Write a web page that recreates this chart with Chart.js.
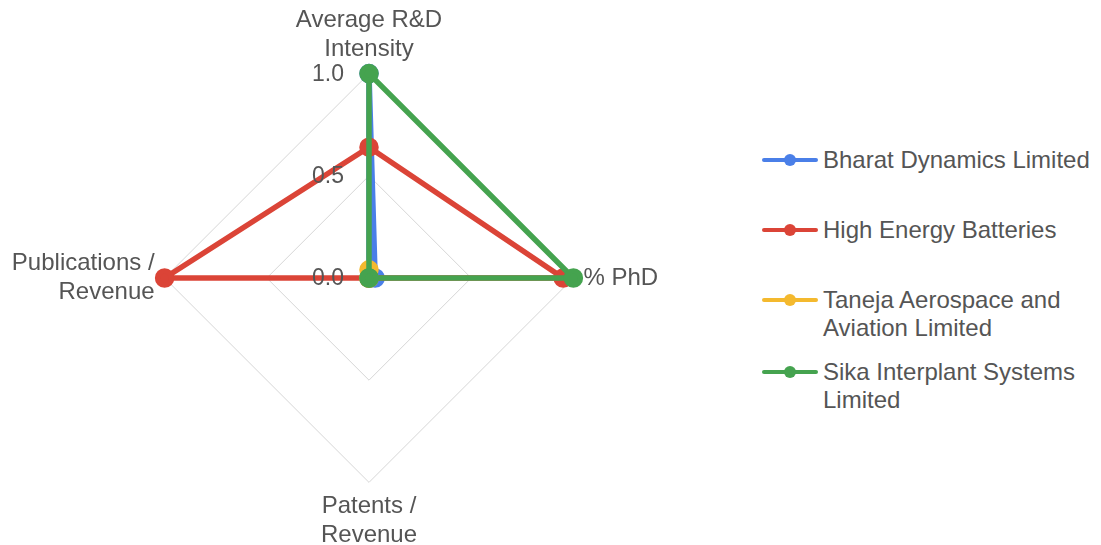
<!DOCTYPE html>
<html>
<head>
<meta charset="utf-8">
<script src="https://cdn.jsdelivr.net/npm/chart.js@4.4.1/dist/chart.umd.min.js"></script>
<style>
  html, body { margin: 0; padding: 0; background: #fff; overflow: hidden; }
  #wrap { position: relative; width: 1101px; height: 545px; overflow: hidden; font-family: "Liberation Sans", Arial, sans-serif; }
  #chartBox { position: absolute; left: -40px; top: 0; width: 791px; height: 551px; }
  #legend { position: absolute; left: 762px; top: 0; }
  .lg-item { position: absolute; left: 0; display: flex; align-items: flex-start; white-space: nowrap; }
  .lg-sym { position: relative; width: 56px; height: 28px; flex: none; }
  .lg-sym .ln { position: absolute; left: 0; top: 12px; width: 56px; height: 4px; border-radius: 2px; }
  .lg-sym .dt { position: absolute; left: 22px; top: 8px; width: 12px; height: 12px; border-radius: 50%; }
  .lg-txt { margin-left: 5px; font-size: 24px; line-height: 28px; color: #555; }
</style>
</head>
<body>
<div id="wrap">
  <div id="chartBox"><canvas id="radar"></canvas></div>
  <div id="legend"></div>
</div>
<script>
// Radar: normalised innovation metrics per company
const axisLabels = [['Average R&D', 'Intensity'], '% PhD', ['Patents /', 'Revenue'], ['Publications /', 'Revenue']];
const tickValues = [0, 0.5, 1.0];

const seriesNames = [
  ['Bharat Dynamics Limited'],
  ['High Energy Batteries'],
  ['Taneja Aerospace and', 'Aviation Limited'],
  ['Sika Interplant Systems', 'Limited']
];
const bharatDynamics = [1.0, 0.03, 0, 0];
const highEnergyBatteries = [0.64, 0.95, 0, 1.0];
const tanejaAerospace = [0.04, 0, 0, 0];
const sikaInterplant = [1.0, 1.0, 0, 0];

const seriesColors = ['#4a7fe8', '#db4437', '#f4b92e', '#45a34f'];
const seriesData = [bharatDynamics, highEnergyBatteries, tanejaAerospace, sikaInterplant];
const legendTops = [146, 216, 286, 358];

const datasets = seriesData.map((vals, i) => ({
  label: seriesNames[i].join(' '),
  data: vals,
  borderColor: seriesColors[i],
  backgroundColor: seriesColors[i],
  pointBackgroundColor: seriesColors[i],
  pointBorderColor: seriesColors[i],
  borderWidth: 5.5,
  pointRadius: 7,
  pointHoverRadius: 7,
  fill: false,
  // last series sits on top, like the original
  order: seriesData.length - 1 - i
}));

// tick labels sit left of the top spoke
const tickLabelPlugin = {
  id: 'tickLabels',
  afterDatasetsDraw(chart) {
    const scale = chart.scales.r;
    const ctx = chart.ctx;
    ctx.save();
    ctx.font = '23px "Liberation Sans", Arial, sans-serif';
    ctx.fillStyle = '#555';
    ctx.textAlign = 'right';
    ctx.textBaseline = 'middle';
    tickValues.forEach(v => {
      const p = scale.getPointPositionForValue(0, v);
      ctx.fillText(v.toFixed(1), p.x - 25, p.y + 1);
    });
    ctx.restore();
  }
};

new Chart(document.getElementById('radar'), {
  type: 'radar',
  data: { labels: axisLabels, datasets: datasets },
  options: {
    responsive: true,
    maintainAspectRatio: false,
    animation: false,
    layout: { padding: { top: 7, bottom: 0, left: 0, right: 0 } },
    plugins: {
      legend: { display: false },
      tooltip: { enabled: false }
    },
    elements: { line: { tension: 0 } },
    scales: {
      r: {
        min: 0,
        max: 1,
        ticks: { stepSize: 0.5, display: false },
        angleLines: { display: false },
        grid: { color: '#d6d6d6', lineWidth: 1 },
        pointLabels: {
          color: '#555',
          padding: 10,
          font: { family: '"Liberation Sans", Arial, sans-serif', size: 24 }
        }
      }
    }
  },
  plugins: [tickLabelPlugin]
});

// HTML legend with line + dot markers
const legendEl = document.getElementById('legend');
legendEl.innerHTML = seriesNames.map((name, i) => `
  <div class="lg-item" style="top:${legendTops[i]}px">
    <div class="lg-sym">
      <div class="ln" style="background:${seriesColors[i]}"></div>
      <div class="dt" style="background:${seriesColors[i]}"></div>
    </div>
    <div class="lg-txt">${name.join('<br>')}</div>
  </div>
`).join('');
</script>
</body>
</html>
